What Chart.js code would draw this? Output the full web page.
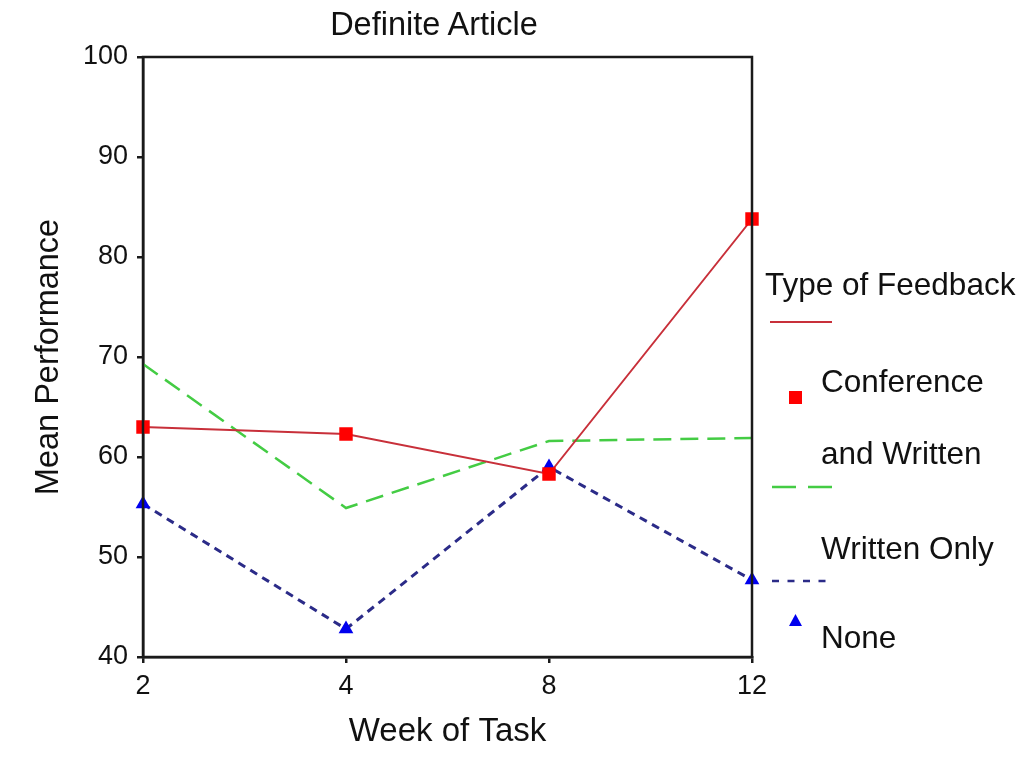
<!DOCTYPE html>
<html><head><meta charset="utf-8">
<script src="https://cdn.jsdelivr.net/npm/chart.js@4"></script>
<style>
html,body{margin:0;padding:0;background:#fff;}
#wrap{position:relative;width:1035px;height:764px;font-family:"Liberation Sans",Arial,sans-serif;color:#111;overflow:hidden;}
canvas{position:absolute;left:0;top:0;}
.t{position:absolute;white-space:nowrap;line-height:36px;font-size:31.5px;}
svg{position:absolute;overflow:visible;}
</style></head><body>
<div id="wrap">
<canvas id="c" width="1035" height="764"></canvas>
<div class="t" id="title" style="left:0;width:868px;text-align:center;top:6px;font-size:32.5px;"></div>
<div id="legend"></div>
</div>
<script>
const chartTitle = 'Definite Article';
const weeks = ['2', '4', '8', '12'];
const seriesNames = ['Conference and Written', 'Written Only', 'None'];
const confWritten = [63.0, 62.3, 58.3, 83.8];
const writtenOnly = [69.3, 54.9, 61.6, 61.9];
const noneFb = [55.3, 42.8, 59.0, 47.7];
const yMin = 40, yMax = 100, yStep = 10;
const legendTitle = 'Type of Feedback';

document.getElementById('title').textContent = chartTitle;

const frame = {
  id: 'frame',
  afterDatasetsDraw(chart) {
    const {ctx, chartArea: a} = chart;
    ctx.save();
    ctx.strokeStyle = '#1a1a1a';
    ctx.lineWidth = 2.5;
    ctx.strokeRect(a.left, a.top, a.right - a.left, a.bottom - a.top);
    ctx.restore();
  }
};

const FONT = '"Liberation Sans", Arial, sans-serif';

const chart = new Chart(document.getElementById('c'), {
  type: 'line',
  data: {
    labels: weeks,
    datasets: [
      { label: seriesNames[0], data: confWritten, borderColor: '#c8303a', borderWidth: 2,
        pointStyle: 'rect', pointRadius: 9.5, pointBackgroundColor: '#ff0000', pointBorderColor: '#ff0000', pointBorderWidth: 0, tension: 0, fill: false },
      { label: seriesNames[1], data: writtenOnly, borderColor: '#44cc44', borderWidth: 2.5, borderDash: [18, 9],
        pointRadius: 0, tension: 0, fill: false },
      { label: seriesNames[2], data: noneFb, borderColor: '#2b2b88', borderWidth: 3, borderDash: [8, 6],
        pointStyle: 'triangle', pointRadius: 8.5, pointBackgroundColor: '#0000ee', pointBorderColor: '#0000ee', pointBorderWidth: 0, tension: 0, fill: false }
    ]
  },
  options: {
    responsive: false,
    animation: false,
    devicePixelRatio: 1,
    layout: { padding: { top: 57, right: 283, left: 0, bottom: 0 } },
    plugins: { legend: { display: false }, title: { display: false }, tooltip: { enabled: false } },
    scales: {
      x: {
        offset: false,
        afterFit(s) { s.height = 107; },
        grid: { display: true, drawOnChartArea: false, drawTicks: true, tickLength: 6, color: '#1a1a1a', lineWidth: 2.5 },
        border: { display: true, color: '#1a1a1a', width: 2.5 },
        ticks: { color: '#111', padding: 7, font: { family: FONT, size: 27 } },
        title: { display: true, text: 'Week of Task', color: '#111', padding: { top: 0, bottom: 12 },
          font: { family: FONT, size: 33 } }
      },
      y: {
        min: yMin, max: yMax,
        afterFit(s) { s.width = 143; },
        grid: { display: true, drawOnChartArea: false, drawTicks: true, tickLength: 6, color: '#1a1a1a', lineWidth: 2.5 },
        border: { display: true, color: '#1a1a1a', width: 2.5 },
        ticks: { stepSize: yStep, color: '#111', padding: 9, font: { family: FONT, size: 27 } },
        title: { display: true, text: 'Mean Performance', color: '#111', padding: { top: 30, bottom: 0 },
          font: { family: FONT, size: 32.5 } }
      }
    }
  },
  plugins: [frame]
});

// Legend (HTML)
const ds = chart.data.datasets;
const lg = document.getElementById('legend');
function txt(s, left, centerY) {
  const d = document.createElement('div');
  d.className = 't';
  d.style.left = left + 'px';
  d.style.top = (centerY - 18) + 'px';
  d.textContent = s;
  lg.appendChild(d);
}
function svgEl(html, left, top, w, h) {
  const ns = 'http://www.w3.org/2000/svg';
  const s = document.createElementNS(ns, 'svg');
  s.setAttribute('width', w); s.setAttribute('height', h);
  s.style.left = left + 'px'; s.style.top = top + 'px';
  s.innerHTML = html;
  lg.appendChild(s);
}
txt(legendTitle, 765, 284);
// Conference and Written
svgEl(`<line x1="0" y1="5" x2="62" y2="5" stroke="${ds[0].borderColor}" stroke-width="2"/>`, 770, 317, 62, 10);
svgEl(`<rect x="0" y="0" width="13" height="13" fill="${ds[0].pointBackgroundColor}"/>`, 789, 391, 13, 13);
const cw = seriesNames[0].split(' ');
txt(cw[0], 821, 381);
txt(cw.slice(1).join(' '), 821, 453);
// Written Only
svgEl(`<line x1="0" y1="5" x2="60" y2="5" stroke="${ds[1].borderColor}" stroke-width="2.5" stroke-dasharray="24 12"/>`, 772, 482, 60, 10);
txt(seriesNames[1], 821, 548);
// None
svgEl(`<line x1="0" y1="5" x2="60" y2="5" stroke="${ds[2].borderColor}" stroke-width="2.5" stroke-dasharray="7 8.5"/>`, 772, 576, 60, 10);
svgEl(`<polygon points="6.5,0 13,12 0,12" fill="${ds[2].pointBackgroundColor}"/>`, 789, 614, 13, 12);
txt(seriesNames[2], 821, 637);
</script>
</body></html>
